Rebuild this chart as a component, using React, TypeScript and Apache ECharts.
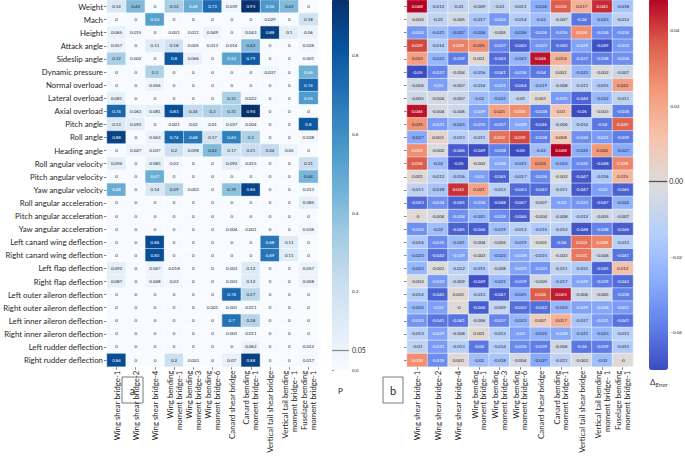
import React, { useEffect, useRef } from "react";
import * as echarts from "echarts";

const rowLabels = [
  "Weight", "Mach", "Height", "Attack angle", "Sideslip angle", "Dynamic pressure",
  "Normal overload", "Lateral overload", "Axial overload", "Pitch angle", "Roll angle",
  "Heading angle", "Roll angular velocity", "Pitch angular velocity", "Yaw angular velocity",
  "Roll angular acceleration", "Pitch angular acceleration", "Yaw angular acceleration",
  "Left canard wing deflection", "Right canard wing deflection", "Left flap deflection",
  "Right flap deflection", "Left outer aileron deflection", "Right outer aileron deflection",
  "Left inner aileron deflection", "Right inner aileron deflection", "Left rudder deflection",
  "Right rudder deflection",
];

const colLabels = [
  "Wing shear bridge-1", "Wing shear bridge-2", "Wing shear bridge-4",
  "Wing bending\nmoment bridge-1", "Wing bending\nmoment bridge-3", "Wing bending\nmoment bridge-6",
  "Canard shear bridge", "Canard bending\nmoment bridge-1", "Vertical tail shear bridge",
  "Vertical tail bending\nmoment bridge- 1", "Fuselage bending\nmoment bridge-1",
];

// panel a: P values
const pValues: number[][] = [
  [0.14, 0.42, 0, 0.32, 0.48, 0.73, 0.039, 0.93, 0.56, 0.42, 0],
  [0, 0, 0.53, 0, 0, 0, 0, 0, 0.029, 0, 0.18],
  [0.065, 0.015, 0, 0.001, 0.011, 0.049, 0, 0.043, 0.88, 0.1, 0.06],
  [0.057, 0, 0.11, 0.18, 0.005, 0.013, 0.014, 0.42, 0, 0, 0.026],
  [0.32, 0.002, 0, 0.8, 0.066, 0, 0.52, 0.79, 0, 0, 0.001],
  [0, 0, 0.3, 0, 0, 0, 0, 0, 0.037, 0, 0.46],
  [0, 0, 0.056, 0, 0, 0, 0, 0, 0, 0, 0.74],
  [0.081, 0, 0, 0, 0, 0, 0.31, 0.022, 0, 0, 0.55],
  [0.74, 0.063, 0.081, 0.83, 0.24, 0.3, 0.31, 0.94, 0, 0, 0],
  [0.13, 0.092, 0, 0.001, 0.02, 0.01, 0.037, 0.004, 0, 0, 0.8],
  [0.88, 0, 0.063, 0.74, 0.68, 0.17, 0.65, 0.3, 0, 0, 0.028],
  [0, 0.047, 0.037, 0.2, 0.098, 0.42, 0.17, 0.21, 0.24, 0.05, 0],
  [0.094, 0, 0.083, 0.02, 0, 0, 0.092, 0.015, 0, 0, 0.21],
  [0, 0, 0.47, 0, 0, 0, 0, 0, 0, 0, 0.44],
  [0.48, 0, 0.14, 0.29, 0.003, 0, 0.39, 0.86, 0, 0, 0.013],
  [0, 0, 0, 0, 0, 0, 0, 0, 0, 0, 0.085],
  [0, 0, 0, 0, 0, 0, 0, 0, 0, 0, 0],
  [0, 0, 0, 0, 0, 0, 0.004, 0.001, 0, 0, 0.036],
  [0, 0, 0.84, 0, 0, 0, 0, 0, 0.68, 0.11, 0],
  [0, 0, 0.83, 0, 0, 0, 0, 0, 0.69, 0.11, 0],
  [0.092, 0, 0.047, 0.018, 0, 0, 0.003, 0.12, 0, 0, 0.057],
  [0.087, 0, 0.048, 0.02, 0, 0, 0.003, 0.12, 0, 0, 0.058],
  [0, 0, 0, 0, 0, 0, 0.74, 0.27, 0, 0, 0],
  [0, 0, 0, 0, 0, 0.001, 0.001, 0.011, 0, 0, 0],
  [0, 0, 0, 0, 0, 0, 0.7, 0.28, 0, 0, 0],
  [0, 0, 0, 0, 0, 0, 0.001, 0.011, 0, 0, 0],
  [0, 0, 0, 0, 0, 0, 0, 0.062, 0, 0, 0.012],
  [0.84, 0, 0, 0.2, 0.003, 0, 0.07, 0.88, 0, 0, 0.017],
];

// panel b: error differences
const errValues: number[][] = [
  [0.048, -0.012, -0.01, -0.009, -0.01, -0.011, -0.026, 0.036, 0.017, 0.043, -0.018],
  [-0.004, -0.01, -0.005, -0.017, -0.032, -0.014, -0.02, -0.007, -0.04, -0.023, -0.012],
  [-0.032, -0.021, -0.027, -0.026, -0.005, -0.026, -0.036, -0.035, 0.026, -0.036, -0.034],
  [0.039, -0.014, 0.029, 0.025, -0.037, -0.045, -0.033, -0.042, -0.029, -0.049, -0.032],
  [0.022, -0.023, -0.039, 0.001, -0.043, -0.023, 0.046, 0.016, -0.037, -0.038, -0.034],
  [-0.05, -0.037, -0.004, -0.016, -0.041, -0.036, -0.04, 0.001, -0.023, -0.002, -0.007],
  [-0.006, -0.03, -0.007, -0.014, -0.031, -0.044, -0.019, -0.008, -0.011, -0.015, 0.022],
  [-0.005, -0.004, -0.007, -0.02, -0.023, -0.01, 0.001, -0.031, -0.044, -0.022, -0.011],
  [0.046, -0.004, -0.006, -0.029, 0.021, 0.026, -0.038, 0.01, -0.05, -0.003, -0.038],
  [0.025, -0.031, -0.023, -0.035, -0.037, -0.028, -0.046, -0.006, -0.014, -0.04, 0.035],
  [-0.027, 0.003, -0.013, -0.011, 0.032, 0.039, -0.038, 0.008, -0.034, -0.031, -0.039],
  [0.026, -0.002, -0.046, -0.049, -0.038, -0.05, -0.02, 0.048, -0.025, 0.024, -0.027],
  [0.036, -0.02, -0.05, -0.002, -0.028, -0.021, 0.025, -0.023, -0.036, -0.048, 0.028],
  [0.001, -0.012, -0.016, -0.03, -0.045, -0.017, -0.036, -0.002, -0.047, -0.016, 0.015],
  [-0.011, -0.018, 0.042, 0.021, -0.013, -0.043, -0.043, -0.011, -0.047, -0.03, -0.045],
  [-0.043, -0.034, -0.045, -0.034, -0.048, -0.047, -0.007, -0.03, -0.033, -0.047, -0.024],
  [-0, -0.004, -0.034, -0.021, -0.035, -0.046, -0.004, -0.008, -0.012, -0.005, -0.007],
  [-0.034, -0.02, -0.045, -0.046, -0.019, -0.013, -0.015, -0.012, -0.048, -0.038, -0.046],
  [-0.016, -0.035, -0.021, -0.004, -0.005, -0.019, -0.001, -0.04, 0.032, 0.028, -0.013],
  [-0.023, -0.042, -0.029, -0.003, -0.023, -0.028, -0.015, -0.003, 0.031, -0.006, -0.041],
  [-0.023, -0.001, -0.012, -0.015, -0.008, -0.029, -0.033, -0.011, -0.015, -0.045, 0.012],
  [-0.002, -0.032, -0.009, -0.049, -0.021, -0.039, -0.005, -0.017, -0.029, -0.039, -0.043],
  [-0.014, -0.045, 0.001, -0.013, -0.047, -0.025, 0.036, 0.045, -0.006, -0.005, -0.038],
  [-0.022, -0.03, -0, -0.046, -0.009, -0.042, -0.042, -0.023, -0.029, -0.028, -0.031],
  [-0.033, -0.041, -0.041, -0.006, -0.037, -0.023, 0.007, 0.017, -0.017, -0.031, -0.041],
  [-0.013, -0.029, -0.008, 0.001, -0.013, -0.03, -0.025, -0.028, -0.021, -0.023, -0.013],
  [-0.01, -0.031, -0.013, -0.04, -0.014, -0.036, -0.039, -0.006, -0.04, -0.039, -0.015],
  [0.026, -0.035, 0.001, -0.02, -0.018, -0.004, -0.027, -0.011, -0.003, -0.02, -0],
];

const pRange = [0, 0.94];
const errRange = [-0.05, 0.048];
const pTicks = [0, 0.2, 0.4, 0.6, 0.8];
const errTicks = [-0.04, -0.02, 0.02, 0.04];
const pMarker = 0.05;
const errMarker = 0;

const BLUES = ["#f7fbff", "#deebf7", "#c6dbef", "#9ecae1", "#6baed6", "#4292c6", "#2171b5", "#08519c", "#08306b"];
const COOLWARM = ["#3b4cc0", "#6282ea", "#8db0fe", "#b8d0f9", "#dddcdc", "#f5c4ad", "#f49a7b", "#de604d", "#b40426"];

function hexToRgb(h: string) {
  return [parseInt(h.slice(1, 3), 16), parseInt(h.slice(3, 5), 16), parseInt(h.slice(5, 7), 16)];
}
function cmap(stops: string[], t: number) {
  const tt = Math.max(0, Math.min(1, t)) * (stops.length - 1);
  const i = Math.min(stops.length - 2, Math.floor(tt));
  const f = tt - i;
  const a = hexToRgb(stops[i]);
  const b = hexToRgb(stops[i + 1]);
  return a.map((v, k) => v + (b[k] - v) * f);
}
function lum(rgb: number[]) {
  const c = rgb.map((v) => {
    const s = v / 255;
    return s <= 0.03928 ? s / 12.92 : Math.pow((s + 0.055) / 1.055, 2.4);
  });
  return 0.2126 * c[0] + 0.7152 * c[1] + 0.0722 * c[2];
}
function fmt(v: number) {
  if (Object.is(v, -0)) return "-0";
  return String(v);
}

const FONT = "Lato";

function buildData(vals: number[][], stops: string[], range: number[]) {
  const out: any[] = [];
  vals.forEach((row, r) => {
    row.forEach((v, c) => {
      const t = (v - range[0]) / (range[1] - range[0]);
      const col = lum(cmap(stops, t)) < 0.408 ? "#ffffff" : "#262626";
      out.push({ value: [c, r, v], label: { color: col } });
    });
  });
  return out;
}

export default function App() {
  const ref = useRef<HTMLDivElement>(null);
  useEffect(() => {
    if (!ref.current) return;
    const chart = echarts.init(ref.current, undefined, { renderer: "svg" });

    const catX = (gi: number) => ({
      type: "category",
      gridIndex: gi,
      data: colLabels,
      position: "bottom",
      axisLine: { show: false },
      axisTick: { show: true, length: 3, lineStyle: { color: "#333", width: 0.6 }, alignWithLabel: true },
      axisLabel: {
        interval: 0,
        rotate: 90,
        fontSize: 7.8,
        lineHeight: 8.8,
        color: "#262626",
        fontFamily: FONT,
        margin: 4,
        align: "right",
      },
      splitLine: { show: false },
    });
    const catY = (gi: number, showLabel: boolean) => ({
      type: "category",
      gridIndex: gi,
      data: rowLabels,
      inverse: true,
      axisLine: { show: false },
      axisTick: { show: true, length: 3, lineStyle: { color: "#333", width: 0.6 }, alignWithLabel: true },
      axisLabel: { show: showLabel, interval: 0, fontSize: 7.8, color: "#262626", fontFamily: FONT, margin: 4 },
      splitLine: { show: false },
    });

    const option: any = {
      animation: false,
      backgroundColor: "#ffffff",
      grid: [
        { left: 102, top: -1, width: 216, height: 371 },
        { left: 407, top: -1, width: 226, height: 371 },
        { left: 332, top: -1, width: 17, height: 371 },
        { left: 649, top: -1, width: 19, height: 371 },
      ],
      xAxis: [
        catX(0),
        catX(1),
        { type: "value", gridIndex: 2, min: 0, max: 1, show: false },
        { type: "value", gridIndex: 3, min: 0, max: 1, show: false },
      ],
      yAxis: [
        catY(0, true),
        catY(1, false),
        {
          type: "value",
          gridIndex: 2,
          min: pRange[0],
          max: pRange[1],
          position: "right",
          axisLine: { show: false },
          splitLine: { show: false },
          axisTick: { show: true, length: 2, lineStyle: { color: "#333", width: 0.5 }, customValues: pTicks },
          axisLabel: {
            fontSize: 4.6,
            color: "#262626",
            fontFamily: FONT,
            margin: 3,
            customValues: pTicks,
            formatter: (v: number) => v.toFixed(1),
          },
        },
        {
          type: "value",
          gridIndex: 3,
          min: errRange[0],
          max: errRange[1],
          position: "right",
          axisLine: { show: false },
          splitLine: { show: false },
          axisTick: { show: true, length: 2, lineStyle: { color: "#333", width: 0.5 }, customValues: errTicks },
          axisLabel: {
            fontSize: 4.6,
            color: "#262626",
            fontFamily: FONT,
            margin: 3,
            customValues: errTicks,
            formatter: (v: number) => (v < 0 ? "\u2212" + Math.abs(v).toFixed(2) : v.toFixed(2)),
          },
        },
      ],
      visualMap: [
        {
          type: "continuous",
          seriesIndex: 0,
          min: pRange[0],
          max: pRange[1],
          inRange: { color: BLUES },
          left: 332,
          top: -1,
          itemWidth: 17,
          itemHeight: 371,
          padding: 0,
          calculable: false,
          hoverLink: false,
          text: null,
        },
        {
          type: "continuous",
          seriesIndex: 1,
          min: errRange[0],
          max: errRange[1],
          inRange: { color: COOLWARM },
          left: 649,
          top: -1,
          itemWidth: 19,
          itemHeight: 371,
          padding: 0,
          calculable: false,
          hoverLink: false,
          text: null,
        },
      ],
      series: [
        {
          type: "heatmap",
          xAxisIndex: 0,
          yAxisIndex: 0,
          data: buildData(pValues, BLUES, pRange),
          itemStyle: { borderColor: "#ffffff", borderWidth: 0.5 },
          label: {
            show: true,
            fontSize: 4.4,
            fontFamily: FONT,
            formatter: (p: any) => fmt(p.value[2]),
          },
        },
        {
          type: "heatmap",
          xAxisIndex: 1,
          yAxisIndex: 1,
          data: buildData(errValues, COOLWARM, errRange),
          itemStyle: { borderColor: "#ffffff", borderWidth: 0.5 },
          label: {
            show: true,
            fontSize: 4.4,
            fontFamily: FONT,
            formatter: (p: any) => fmt(p.value[2]),
          },
        },
        {
          type: "line",
          xAxisIndex: 2,
          yAxisIndex: 2,
          data: [[0.5, pMarker]],
          showSymbol: false,
          symbolSize: 0,
          lineStyle: { width: 0 },
          markLine: {
            silent: true,
            symbol: "none",
            data: [{ yAxis: pMarker }],
            lineStyle: { color: "#8c8c8c", width: 1.3, type: "solid" },
            label: { position: "end", formatter: "0.05", fontSize: 7, color: "#262626", fontFamily: FONT, distance: 3 },
          },
        },
        {
          type: "line",
          xAxisIndex: 3,
          yAxisIndex: 3,
          data: [[0.5, errMarker]],
          showSymbol: false,
          symbolSize: 0,
          lineStyle: { width: 0 },
          markLine: {
            silent: true,
            symbol: "none",
            data: [{ yAxis: errMarker }],
            lineStyle: { color: "#555555", width: 1.3, type: "solid" },
            label: { position: "end", formatter: "0.00", fontSize: 7, color: "#262626", fontFamily: FONT, distance: 2 },
          },
        },
      ],
      graphic: [
        { type: "text", left: 338, top: 387, style: { text: "P", fontSize: 8, fill: "#262626", fontFamily: FONT } },
        {
          type: "text",
          left: 650,
          top: 378,
          style: {
            text: "{d|\u0394}{s|Error}",
            rich: {
              d: { fontSize: 8, fill: "#262626", fontFamily: FONT },
              s: { fontSize: 6, fill: "#262626", fontStyle: "italic", fontFamily: FONT, padding: [5, 0, 0, 0] },
            },
          },
        },
        { type: "rect", shape: { x: 122, y: 377, width: 21, height: 26 }, style: { fill: "#fff", stroke: "#555", lineWidth: 0.8 } },
        { type: "text", x: 132.5, y: 390, style: { text: "a", fontSize: 11, fill: "#262626", fontFamily: FONT, align: "center", verticalAlign: "middle" } },
        { type: "rect", shape: { x: 383, y: 377, width: 20, height: 26 }, style: { fill: "#fff", stroke: "#555", lineWidth: 0.8 } },
        { type: "text", x: 393, y: 390, style: { text: "b", fontSize: 11, fill: "#262626", fontFamily: FONT, align: "center", verticalAlign: "middle" } },
      ],
    };
    chart.setOption(option);
    return () => chart.dispose();
  }, []);
  return <div ref={ref} style={{ position: "absolute", left: 0, top: 0, width: 685, height: 456 }} />;
}
